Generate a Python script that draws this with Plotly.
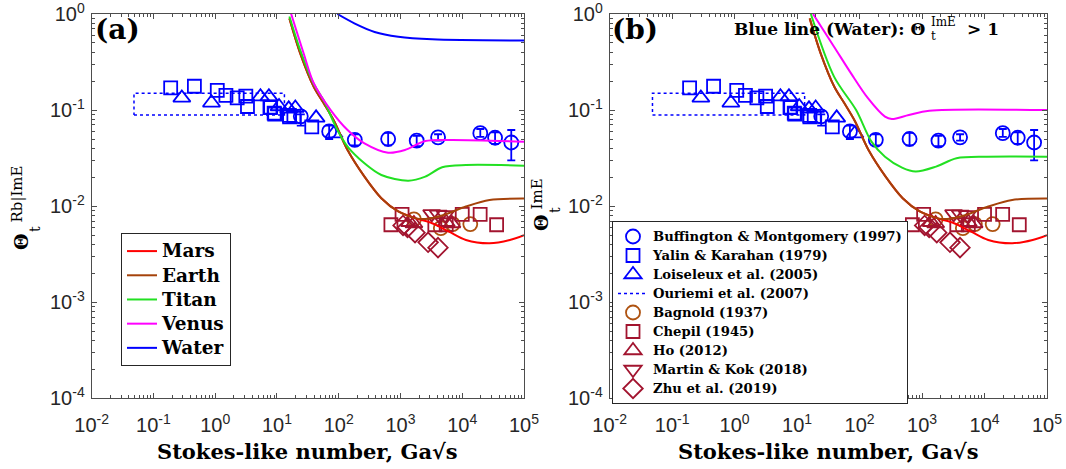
import plotly.graph_objects as go

# ---------------- data ----------------
# model curves (Stokes-like number vs threshold Shields number)
mars_x = [15.9, 23.8, 39.4, 57.5, 84, 139, 261, 490, 920, 1730, 3250, 6100, 11460, 27700, 58900, 100000]
mars_y = [0.90, 0.39, 0.175, 0.117, 0.077, 0.0384, 0.0203, 0.0121, 0.0088, 0.0075, 0.00664, 0.00543, 0.00445, 0.00411, 0.00445, 0.0050]
earth_x = [15.9, 23.8, 39.4, 57.5, 84, 139, 261, 490, 920, 1730, 2520, 4730, 11460, 27700, 100000]
earth_y = [0.90, 0.39, 0.175, 0.117, 0.077, 0.0384, 0.0203, 0.0121, 0.0088, 0.0075, 0.00736, 0.00800, 0.0099, 0.0116, 0.0120]
titan_a_x = [15.9, 23.8, 39.4, 57.5, 95, 139, 261, 490, 1340, 2520, 4730, 11460, 100000]
titan_a_y = [0.94, 0.42, 0.187, 0.125, 0.062, 0.0416, 0.0279, 0.0211, 0.0184, 0.0203, 0.0254, 0.0268, 0.0264]
venus_a_x = [16.6, 27, 39.4, 74, 139, 261, 631, 1180, 2520, 6100, 100000]
venus_a_y = [1.05, 0.39, 0.19, 0.100, 0.062, 0.045, 0.036, 0.0384, 0.0476, 0.0489, 0.0469]
water_a_x = [95, 179, 381, 920, 3250, 100000]
water_a_y = [1.0, 0.80, 0.65, 0.58, 0.545, 0.53]
venus_b_x = [18, 39, 73, 136, 255, 328, 614, 1306, 100000]
venus_b_y = [1.0, 0.457, 0.241, 0.133, 0.0855, 0.0808, 0.0889, 0.0986, 0.100]
titan_b_x = [16.6, 39, 88, 155, 255, 478, 789, 1676, 3560, 10960, 100000]
titan_b_y = [1.0, 0.223, 0.100, 0.0469, 0.0327, 0.0252, 0.0229, 0.0258, 0.0315, 0.0327, 0.0327]

# water data
buff_x = [24.3, 70, 182, 631, 1830, 4060, 19600, 34000, 62200]
buff_y = [0.086, 0.060, 0.049, 0.050, 0.048, 0.052, 0.0575, 0.0515, 0.046]
buff_ep = [0.004, 0.009, 0.007, 0.008, 0.006, 0.004, 0.006, 0.007, 0.016]
buff_em = [0.017, 0.010, 0.006, 0.007, 0.006, 0.004, 0.005, 0.007, 0.016]
yalin_x = [0.19, 0.46, 1.08, 1.49, 2.27, 3.13, 3.33, 7.7, 7.9, 9.0, 9.2, 15.9, 16, 18.8, 36.6]
yalin_y = [0.170, 0.177, 0.160, 0.142, 0.134, 0.140, 0.109, 0.106, 0.107, 0.093, 0.091, 0.088, 0.085, 0.086, 0.067]
lois_x = [0.288, 0.87, 5.4, 7.4, 10.8, 15.5, 19.8, 43, 84]
lois_y = [0.134, 0.119, 0.138, 0.138, 0.109, 0.103, 0.105, 0.083, 0.057]
ouriemi_x = [0.0484, 13.2, 13.2, 0.0484, 0.0484]
ouriemi_y = [0.089, 0.089, 0.150, 0.150, 0.089]

# air data
bagnold_x = [1650, 4500, 7000, 13500]
bagnold_y = [0.0073, 0.0059, 0.0065, 0.0065]
chepil_x = [700, 1060, 3600, 5500, 10000, 19500, 36000]
chepil_y = [0.0064, 0.0082, 0.0064, 0.0064, 0.0082, 0.0082, 0.0064]
ho_x = [1400, 1650, 5500, 6800]
ho_y = [0.0068, 0.0066, 0.0068, 0.0066]
martin_x = [3200, 4100, 5300]
martin_y = [0.0083, 0.0082, 0.0081]
zhu_x = [1100, 1300, 1720, 2800, 4050]
zhu_y = [0.0063, 0.0060, 0.0053, 0.0042, 0.0037]

x_tickvals = [1e-2, 1e-1, 1e0, 1e1, 1e2, 1e3, 1e4, 1e5]
x_ticktext = ["10<sup>-2</sup>", "10<sup>-1</sup>", "10<sup>0</sup>", "10<sup>1</sup>", "10<sup>2</sup>",
              "10<sup>3</sup>", "10<sup>4</sup>", "10<sup>5</sup>"]
y_tickvals = [1e-4, 1e-3, 1e-2, 1e-1, 1e0]
y_ticktext = ["10<sup>-4</sup>", "10<sup>-3</sup>", "10<sup>-2</sup>", "10<sup>-1</sup>", "10<sup>0</sup>"]

# ---------------- styles ----------------
C_MARS = "#FF0000"
C_EARTH = "#A5420A"
C_TITAN = "#22E022"
C_VENUS = "#FF00FF"
C_WATER = "#0000FF"
C_BLUE = "#0000FF"
C_BAG = "#AE5210"
C_AIR = "#A2142F"
SERIF = "DejaVu Serif"

W, H = 1066, 469
xa_dom = [91.7 / W, 524 / W]
xb_dom = [609.7 / W, 1047 / W]
y_dom = [1 - 398.3 / H, 1 - 14 / H]

LEG1_TXT = "<span style='font-size:18.5px'>%s</span>"
LEG2_TXT = "<span style='font-size:13.2px'>%s</span>"

fig = go.Figure()


def curve(x, y, color, name, xa, ya, show):
    fig.add_trace(go.Scatter(x=x, y=y, mode="lines", name=LEG1_TXT % name, xaxis=xa, yaxis=ya,
                             line=dict(color=color, width=2, shape="spline", smoothing=0.9),
                             showlegend=show, legend="legend", hoverinfo="skip"))


def markers(x, y, symbol, color, size, name, xa, ya, show, err=None):
    kw = {}
    if err is not None:
        kw["error_y"] = dict(type="data", symmetric=False, array=err[0], arrayminus=err[1],
                             color=color, thickness=1.8, width=4)
    fig.add_trace(go.Scatter(x=x, y=y, mode="markers", name=LEG2_TXT % name, xaxis=xa, yaxis=ya,
                             marker=dict(symbol=symbol, size=size, color=color,
                                         line=dict(color=color, width=1.8)),
                             showlegend=show, legend="legend2", hoverinfo="skip", **kw))


for xa, ya, panel in [("x", "y", "a"), ("x2", "y2", "b")]:
    show_b = panel == "b"
    markers(buff_x, buff_y, "circle-open", C_BLUE, 14, "Buffington &amp; Montgomery (1997)", xa, ya, show_b,
            err=(buff_ep, buff_em))
    markers(yalin_x, yalin_y, "square-open", C_BLUE, 13, "Yalin &amp; Karahan (1979)", xa, ya, show_b)
    markers(lois_x, lois_y, "triangle-up-open", C_BLUE, 15, "Loiseleux et al. (2005)", xa, ya, show_b)
    fig.add_trace(go.Scatter(x=ouriemi_x, y=ouriemi_y, mode="lines", name=LEG2_TXT % "Ouriemi et al. (2007)",
                             xaxis=xa, yaxis=ya, line=dict(color=C_BLUE, width=1.5, dash="dot"),
                             showlegend=show_b, legend="legend2", hoverinfo="skip"))
    markers(bagnold_x, bagnold_y, "circle-open", C_BAG, 14, "Bagnold (1937)", xa, ya, show_b)
    markers(chepil_x, chepil_y, "square-open", C_AIR, 13, "Chepil (1945)", xa, ya, show_b)
    markers(ho_x, ho_y, "triangle-up-open", C_AIR, 15, "Ho (2012)", xa, ya, show_b)
    markers(martin_x, martin_y, "triangle-down-open", C_AIR, 15, "Martin &amp; Kok (2018)", xa, ya, show_b)
    markers(zhu_x, zhu_y, "diamond-open", C_AIR, 15, "Zhu et al. (2019)", xa, ya, show_b)

    show_a = panel == "a"
    curve(mars_x, mars_y, C_MARS, "Mars", xa, ya, show_a)
    curve(earth_x, earth_y, C_EARTH, "Earth", xa, ya, show_a)
    if panel == "a":
        curve(titan_a_x, titan_a_y, C_TITAN, "Titan", xa, ya, True)
        curve(venus_a_x, venus_a_y, C_VENUS, "Venus", xa, ya, True)
        curve(water_a_x, water_a_y, C_WATER, "Water", xa, ya, True)
    else:
        curve(titan_b_x, titan_b_y, C_TITAN, "Titan", xa, ya, False)
        curve(venus_b_x, venus_b_y, C_VENUS, "Venus", xa, ya, False)

axis_common = dict(type="log", showline=True, linecolor="#4d4d4d", linewidth=1, mirror="ticks",
                   ticks="inside", ticklen=5, tickwidth=1, tickcolor="#4d4d4d", showgrid=False,
                   zeroline=False, ticklabeloverflow="allow",
                   tickfont=dict(family="Liberation Sans, Arial", size=20, color="#262626"),
                   minor=dict(ticks="inside", ticklen=3, tickwidth=1, tickcolor="#4d4d4d", dtick="D1",
                              showgrid=False))
x_extra = dict(range=[-2, 5], tickvals=x_tickvals, ticktext=x_ticktext, ticklabelstandoff=9)
y_extra = dict(range=[-4, 0], tickvals=y_tickvals, ticktext=y_ticktext, ticklabelstandoff=2)

fig.update_layout(
    width=W, height=H, autosize=False,
    margin=dict(l=0, r=0, t=0, b=0, autoexpand=False),
    paper_bgcolor="white", plot_bgcolor="white",
    xaxis=dict(domain=xa_dom, anchor="y", **x_extra, **axis_common),
    yaxis=dict(domain=y_dom, anchor="x", **y_extra, **axis_common),
    xaxis2=dict(domain=xb_dom, anchor="y2", **x_extra, **axis_common),
    yaxis2=dict(domain=y_dom, anchor="x2", **y_extra, **axis_common),
    legend=dict(x=121 / W, y=1 - 233 / H, xanchor="left", yanchor="top", bgcolor="white",
                bordercolor="#262626", borderwidth=1, tracegroupgap=0,
                font=dict(family=SERIF, size=16.3, color="black", weight="bold")),
    legend2=dict(x=612 / W, y=1 - 221 / H, xanchor="left", yanchor="top", bgcolor="white",
                 bordercolor="#262626", borderwidth=1, tracegroupgap=0,
                 font=dict(family=SERIF, size=12, color="black", weight="bold")),
    showlegend=True,
)


def ann(text, x, y, size, xanchor="center", yanchor="middle", angle=0, family=SERIF, weight="bold"):
    fig.add_annotation(text=text, x=x / W, y=1 - y / H, xref="paper", yref="paper", showarrow=False,
                       xanchor=xanchor, yanchor=yanchor, textangle=angle,
                       font=dict(family=family, size=size, color="black", weight=weight))


# x-axis titles
ann("Stokes-like number, Ga√s", (91.7 + 524) / 2, 451, 21)
ann("Stokes-like number, Ga√s", (609.7 + 1047) / 2, 451, 21)
# y-axis titles (Theta with stacked sub/superscripts)
ann("Θ", 21, 242, 19, angle=-90)
ann("Rb|ImE", 16.5, 194, 15, angle=-90, weight="normal")
ann("t", 35, 229, 14, angle=-90, weight="normal")
ann("Θ", 541, 223, 19, angle=-90)
ann("ImE", 536.5, 194, 15, angle=-90, weight="normal")
ann("t", 555, 210, 14, angle=-90, weight="normal")
# panel labels
ann("(a)", 93, 29, 28, xanchor="left")
ann("(b)", 610, 29, 28, xanchor="left")
# note in panel b
ann("Blue line (Water): Θ", 927, 28.5, 17, xanchor="right")
ann("ImE", 929, 22, 12, xanchor="left", weight="normal")
ann("t", 929, 36, 12, xanchor="left", weight="normal")
ann("&gt; 1", 965, 28.5, 17, xanchor="left")

fig.write_html("out.html", config={"displayModeBar": False},
               post_script="document.body.style.margin='0';document.body.style.overflow='hidden';")
